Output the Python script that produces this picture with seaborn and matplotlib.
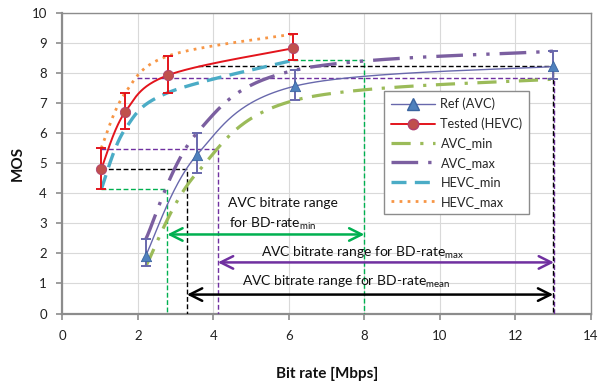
import numpy as np
import pandas as pd
import matplotlib
matplotlib.use("Agg")
import matplotlib.pyplot as plt
from matplotlib.lines import Line2D
import seaborn as sns

# ---------------- data ----------------
ref_x = [2.21, 3.56, 6.17, 13.0]
ref_y = [1.93, 5.27, 7.57, 8.22]
ref_lo = [1.57, 4.67, 7.10, 7.80]
ref_hi = [2.47, 6.00, 8.10, 8.73]

hevc_x = [1.03, 1.66, 2.80, 6.12]
hevc_y = [4.80, 6.70, 7.93, 8.83]
hevc_lo = [4.13, 6.13, 7.35, 8.43]
hevc_hi = [5.50, 7.33, 8.57, 9.30]

# BD-rate guide levels (MOS) and AVC bitrate ranges (Mbps)
min_levels = [4.13, 8.42]
min_range = [2.78, 8.0]
max_levels = [5.47, 7.85]
max_range = [4.12, 13.02]
max_start = [1.03, 1.98]
mean_levels = [4.82, 8.24]
mean_range = [3.30, 13.0]
mean_start = [1.03, 3.60]
min_start = [1.03, 6.12]

arrow_y = {"min": 2.63, "max": 1.70, "mean": 0.63}

x_ticks = [0, 2, 4, 6, 8, 10, 12, 14]
y_ticks = list(range(0, 11))

# ---------------- style ----------------
sns.set_theme(style="whitegrid")
plt.rcParams["font.family"] = ["Lato", "DejaVu Sans"]

C_REF_LINE = "#6868AC"
C_REF_MK = "#4F81BD"
C_RED = "#E3141C"
C_RED_MK = "#C0504D"
C_GREEN = "#9BBB59"
C_PURPLE = "#7B5FA0"
C_TEAL = "#4BACC6"
C_ORANGE = "#F79646"
C_G2 = "#00B050"
C_P2 = "#7030A0"


def smooth(xs, ys, n=60):
    P = np.column_stack([xs, ys]).astype(float)
    ext = np.vstack([P[0], P, P[-1]])
    out = []
    t = np.linspace(0, 1, n)[:, None]
    for i in range(len(P) - 1):
        p0, p1, p2, p3 = ext[i], ext[i + 1], ext[i + 2], ext[i + 3]
        c1 = p1 + (p2 - p0) / 6.0
        c2 = p2 - (p3 - p1) / 6.0
        seg = (1 - t) ** 3 * p1 + 3 * (1 - t) ** 2 * t * c1 + 3 * (1 - t) * t ** 2 * c2 + t ** 3 * p2
        out.append(seg if i == 0 else seg[1:])
    return np.vstack(out)


fig = plt.figure(figsize=(6.0, 3.82), dpi=100)
ax = fig.add_axes([0.1038, 0.1793, 0.8812, 0.7867])
ax.set_facecolor("white")

ax.set_xlim(0, 14)
ax.set_ylim(0, 10)
ax.set_xticks(x_ticks)
ax.set_yticks(y_ticks)
ax.grid(True, color="#D9D9D9", lw=0.8)
ax.set_axisbelow(True)
for s in ["top", "right"]:
    ax.spines[s].set_color("#8C8C8C")
    ax.spines[s].set_linewidth(1.0)
for s in ["left", "bottom"]:
    ax.spines[s].set_color("#8C8C8C")
    ax.spines[s].set_linewidth(1.6)
ax.tick_params(axis="both", which="major", direction="out", length=4, width=1.2,
               color="#8C8C8C", labelsize=9.5, labelcolor="#222222", left=True, bottom=True)
ax.tick_params(axis="y", pad=7)
ax.tick_params(axis="x", pad=8)

# ---------------- guide rectangles ----------------
def guide(x0, x1, lvl, color):
    ax.plot([x0, x1, x1], [lvl, lvl, 0], color=color, lw=1.0, ls=(0, (3.5, 1.8)), zorder=3)

guide(min_start[0], min_range[0], min_levels[0], C_G2)
guide(min_start[1], min_range[1], min_levels[1], C_G2)
guide(max_start[0], max_range[0], max_levels[0], C_P2)
guide(max_start[1], max_range[1], max_levels[1], C_P2)
guide(mean_start[0], mean_range[0], mean_levels[0], "black")
guide(mean_start[1], mean_range[1], mean_levels[1], "black")

# ---------------- bound curves ----------------
c = smooth(ref_x, ref_lo)
ax.plot(c[:, 0], c[:, 1], color=C_GREEN, lw=2.3, dashes=(6, 3, 1, 3), zorder=4)
c = smooth(ref_x, ref_hi)
ax.plot(c[:, 0], c[:, 1], color=C_PURPLE, lw=2.4, dashes=(8, 3, 1, 3, 1, 3), zorder=4)
c = smooth(hevc_x, hevc_lo)
ax.plot(c[:, 0], c[:, 1], color=C_TEAL, lw=2.4, dashes=(4.5, 2.5), zorder=4)
c = smooth(hevc_x, hevc_hi)
ax.plot(c[:, 0], c[:, 1], color=C_ORANGE, lw=2.0, dashes=(1, 1.9), zorder=4)

# ---------------- main series ----------------
c = smooth(ref_x, ref_y)
ax.plot(c[:, 0], c[:, 1], color=C_REF_LINE, lw=1.0, zorder=5)
c = smooth(hevc_x, hevc_y)
ax.plot(c[:, 0], c[:, 1], color=C_RED, lw=1.4, zorder=5)

ry = np.array(ref_y)
ax.errorbar(ref_x, ref_y, yerr=[ry - np.array(ref_lo), np.array(ref_hi) - ry], fmt="none",
            ecolor=C_REF_LINE, elinewidth=1.4, capsize=3.5, capthick=1.4, zorder=6)
hy = np.array(hevc_y)
ax.errorbar(hevc_x, hevc_y, yerr=[hy - np.array(hevc_lo), np.array(hevc_hi) - hy], fmt="none",
            ecolor=C_RED, elinewidth=1.4, capsize=3.5, capthick=1.4, zorder=6)

df_ref = pd.DataFrame({"x": ref_x, "y": ref_y})
df_hevc = pd.DataFrame({"x": hevc_x, "y": hevc_y})
sns.scatterplot(data=df_ref, x="x", y="y", marker="^", s=55, color=C_REF_MK,
                edgecolor="#3B64A0", linewidth=0.6, ax=ax, zorder=7, legend=False)
sns.scatterplot(data=df_hevc, x="x", y="y", marker="o", s=55, color=C_RED_MK,
                edgecolor="#B0406E", linewidth=0.6, ax=ax, zorder=7, legend=False)
ax.set_xlabel("Bit rate [Mbps]", fontsize=11, fontweight="bold", labelpad=18, color="#111111")
ax.set_ylabel("MOS", fontsize=11, fontweight="bold", labelpad=5, color="#111111")

# ---------------- arrows & labels ----------------
def darrow(x0, x1, y, color):
    ax.annotate("", xy=(x1, y), xytext=(x0, y),
                arrowprops=dict(arrowstyle="<->,head_length=0.9,head_width=0.45",
                                color=color, lw=1.8, shrinkA=0, shrinkB=0,
                                mutation_scale=10), zorder=8)

darrow(min_range[0], min_range[1], arrow_y["min"], C_G2)
darrow(max_range[0], max_range[1], arrow_y["max"], C_P2)
darrow(mean_range[0], mean_range[1], arrow_y["mean"], "black")

tkw = dict(fontsize=10, color="#111111", ha="center", va="center", zorder=9)
ax.text(5.83, 3.67, "AVC bitrate range", **tkw)
ax.text(5.57, 3.0, r"for BD-rate$_{\mathregular{min}}$", **tkw)
ax.text(7.94, 2.02, r"AVC bitrate range for BD-rate$_{\mathregular{max}}$", **tkw)
ax.text(7.52, 1.05, r"AVC bitrate range for BD-rate$_{\mathregular{mean}}$", **tkw)

# ---------------- legend ----------------
handles = [
    Line2D([], [], color=C_REF_LINE, lw=1.0, marker="^", markersize=8,
           markerfacecolor=C_REF_MK, markeredgecolor="#3B64A0"),
    Line2D([], [], color=C_RED, lw=1.4, marker="o", markersize=7.5,
           markerfacecolor=C_RED_MK, markeredgecolor="#B0406E"),
    Line2D([], [], color=C_GREEN, lw=2.3, dashes=(6, 3, 1, 3)),
    Line2D([], [], color=C_PURPLE, lw=2.4, dashes=(8, 3, 1, 3, 1, 3)),
    Line2D([], [], color=C_TEAL, lw=2.4, dashes=(4.5, 2.5)),
    Line2D([], [], color=C_ORANGE, lw=2.0, dashes=(1, 1.9)),
]
labels = ["Ref (AVC)", "Tested (HEVC)", "AVC_min", "AVC_max", "HEVC_min", "HEVC_max"]
leg = ax.legend(handles, labels, loc="upper left", bbox_to_anchor=(0.609, 0.74),
                fontsize=9.2, frameon=True, fancybox=False, framealpha=1,
                edgecolor="#8C8C8C", handlelength=3.5, handletextpad=0.4,
                labelspacing=0.58, borderpad=0.5, borderaxespad=0)
leg.get_frame().set_linewidth(1.0)
leg.set_zorder(10)

fig.savefig("out.png", dpi=100, facecolor="white")
